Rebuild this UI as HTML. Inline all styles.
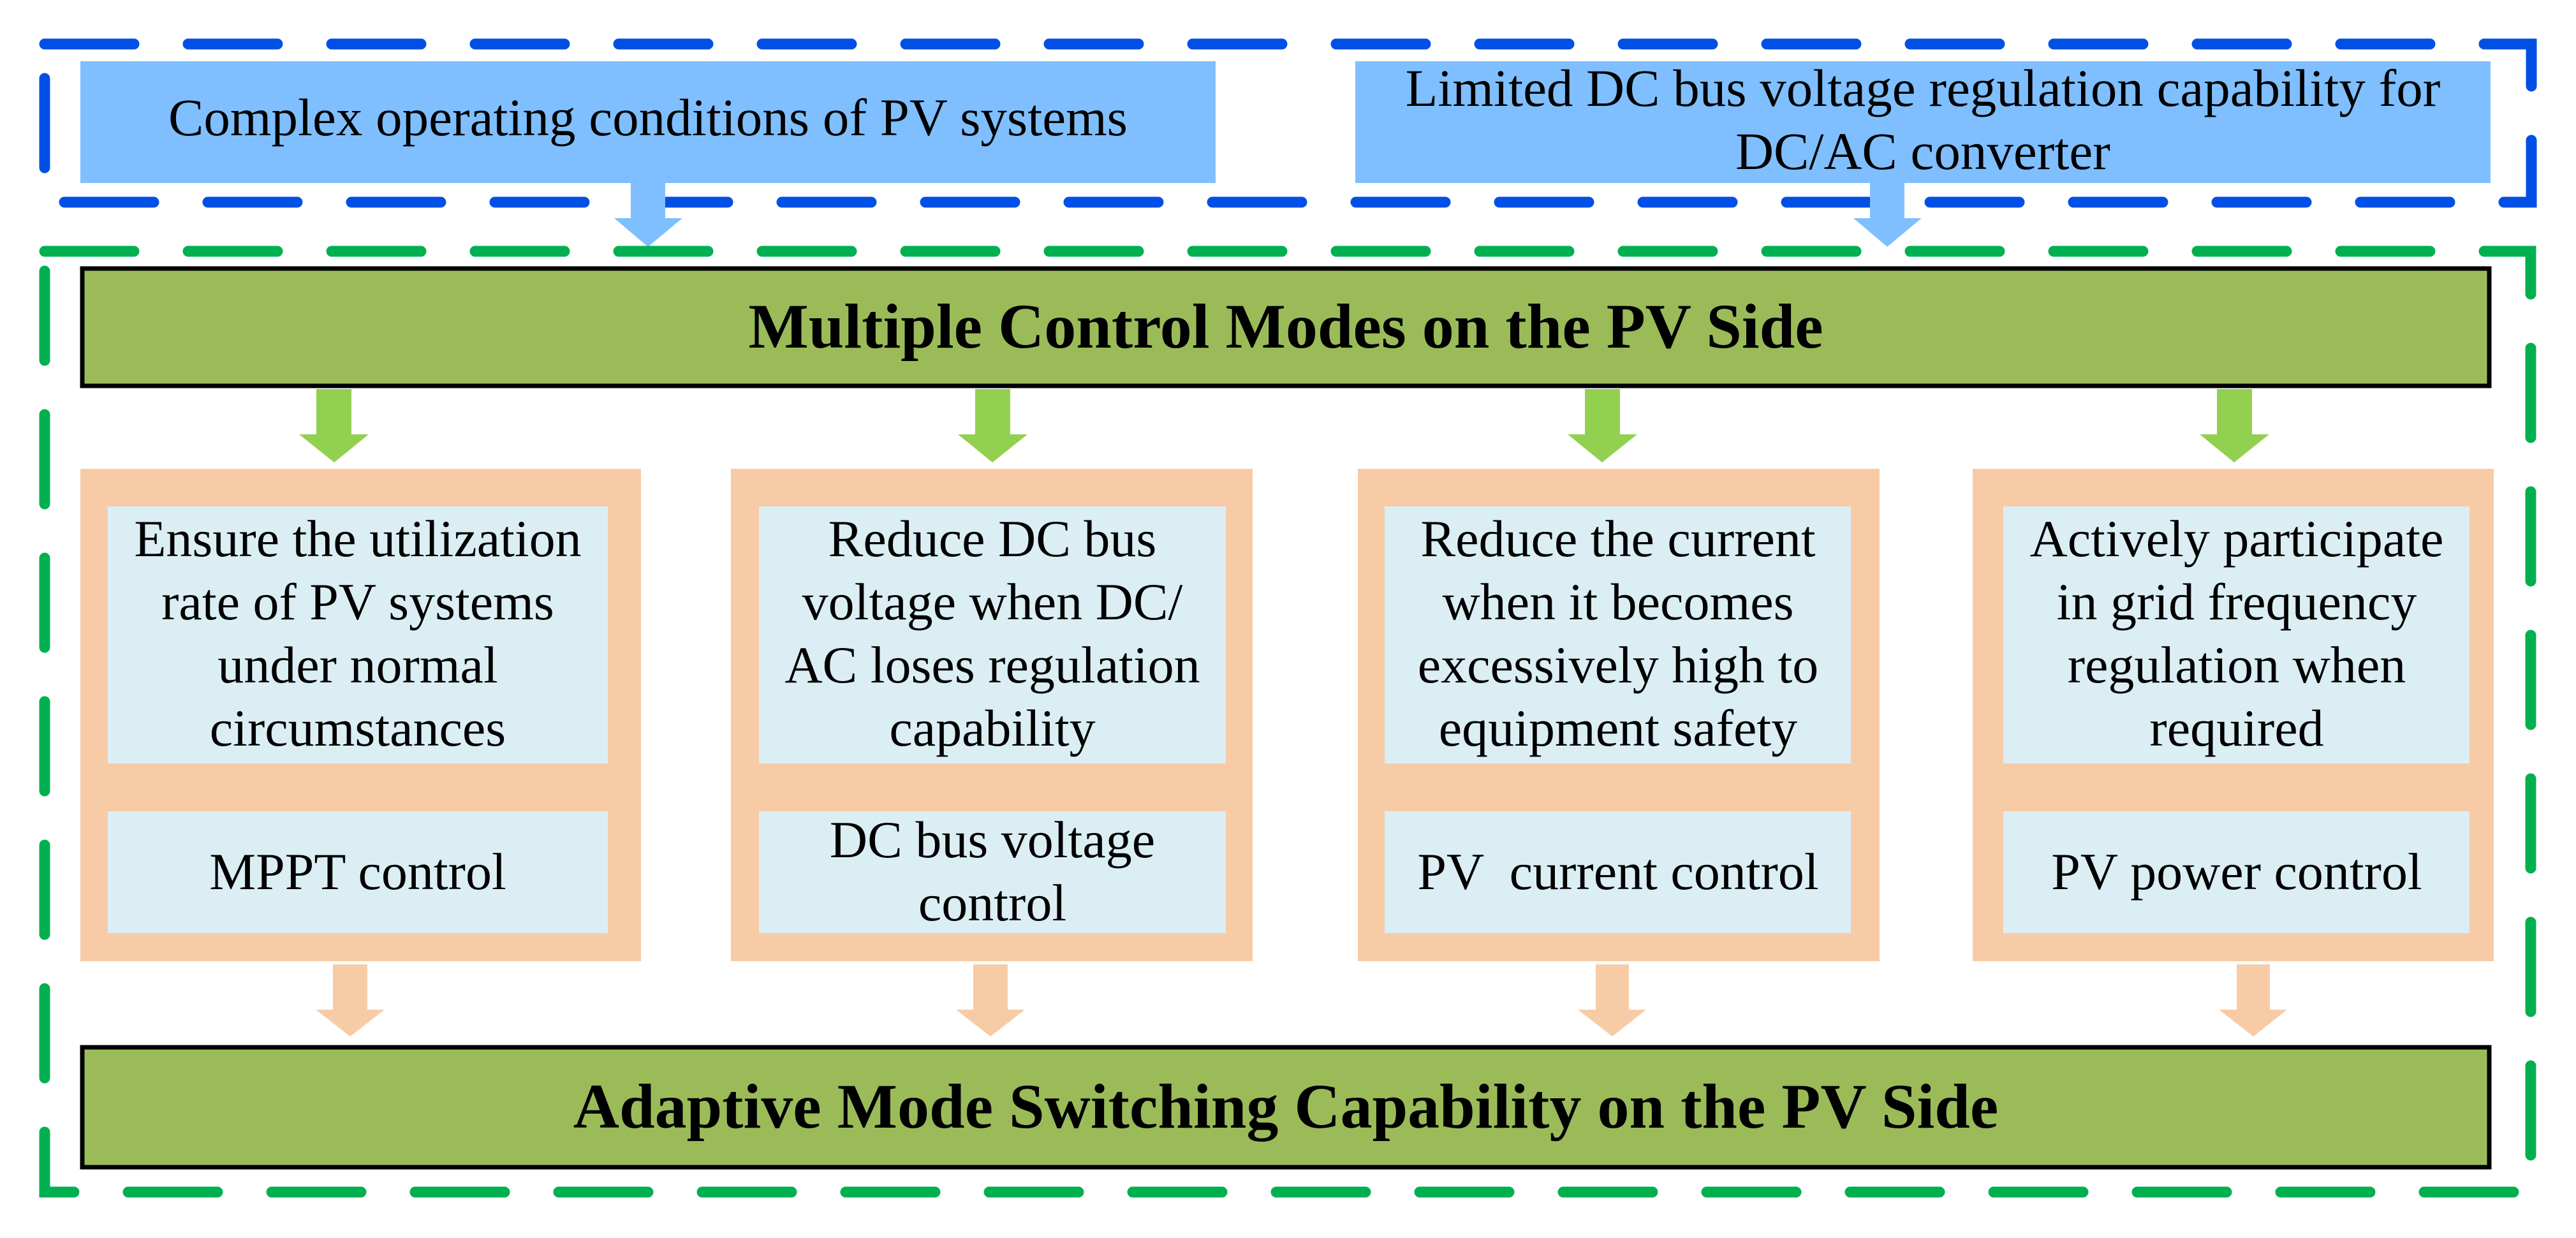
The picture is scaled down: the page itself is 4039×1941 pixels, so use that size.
<!DOCTYPE html>
<html><head><meta charset="utf-8"><style>
html,body{margin:0;padding:0;background:#fff;}
svg{display:block;}
text{font-family:"Liberation Serif","Times New Roman",serif;fill:#000;}
</style></head><body>
<svg width="4039" height="1941" viewBox="0 0 4039 1941" xmlns="http://www.w3.org/2000/svg">
<rect x="126" y="96" width="1780" height="191" fill="#7fbfff"/>
<rect x="2125" y="96" width="1780" height="191" fill="#7fbfff"/>
<text x="1016" y="212" font-size="83" text-anchor="middle">Complex operating conditions of PV systems</text>
<text x="3015" y="166" font-size="83" text-anchor="middle">Limited DC bus voltage regulation capability for</text>
<text x="3015" y="265" font-size="83" text-anchor="middle">DC/AC converter</text>
<rect x="70" y="69" width="3899" height="248" fill="none" stroke="#0050e6" stroke-width="17" stroke-dasharray="140 85" stroke-linecap="round"/>
<polygon points="989,287 1043,287 1043,342 1070,342 1016,387 963,342 989,342" fill="#7fbfff"/>
<polygon points="2932,287 2986,287 2986,342 3013,342 2959,387 2906,342 2932,342" fill="#7fbfff"/>
<rect x="70" y="394" width="3898" height="1475" fill="none" stroke="#00b050" stroke-width="17" stroke-dasharray="140 85" stroke-linecap="round"/>
<rect x="129" y="421" width="3774" height="184" fill="#9bbb59" stroke="#000" stroke-width="7"/>
<text x="2016" y="545" font-size="100" font-weight="bold" text-anchor="middle">Multiple Control Modes on the PV Side</text>
<rect x="129" y="1642" width="3774" height="188" fill="#9bbb59" stroke="#000" stroke-width="7"/>
<text x="2016" y="1768" font-size="100" font-weight="bold" text-anchor="middle">Adaptive Mode Switching Capability on the PV Side</text>
<g fill="#92d050">
<polygon points="496,610 551,610 551,681 578,681 524,725 469,681 496,681"/>
<polygon points="1529,610 1584,610 1584,681 1611,681 1556,725 1502,681 1529,681"/>
<polygon points="2485,610 2540,610 2540,681 2567,681 2512,725 2458,681 2485,681"/>
<polygon points="3476,610 3531,610 3531,681 3558,681 3503,725 3449,681 3476,681"/>
</g>
<g fill="#f8cba7">
<rect x="126" y="735" width="879" height="772"/>
<rect x="1146" y="735" width="818" height="772"/>
<rect x="2129" y="735" width="818" height="772"/>
<rect x="3093" y="735" width="817" height="772"/>
</g>
<g fill="#dbeef4">
<rect x="169" y="794" width="784" height="403"/>
<rect x="169" y="1272" width="784" height="191"/>
<rect x="1190" y="794" width="732" height="403"/>
<rect x="1190" y="1272" width="732" height="191"/>
<rect x="2171" y="794" width="731" height="403"/>
<rect x="2171" y="1272" width="731" height="191"/>
<rect x="3141" y="794" width="731" height="403"/>
<rect x="3141" y="1272" width="731" height="191"/>
</g>
<g font-size="82" text-anchor="middle">
<text x="561" y="872">Ensure the utilization</text>
<text x="561" y="971">rate of PV systems</text>
<text x="561" y="1070">under normal</text>
<text x="561" y="1169">circumstances</text>
<text x="561" y="1394">MPPT control</text>
<text x="1556" y="872">Reduce DC bus</text>
<text x="1556" y="971">voltage when DC/</text>
<text x="1556" y="1070">AC loses regulation</text>
<text x="1556" y="1169">capability</text>
<text x="1556" y="1344">DC bus voltage</text>
<text x="1556" y="1443">control</text>
<text x="2537" y="872">Reduce the current</text>
<text x="2537" y="971">when it becomes</text>
<text x="2537" y="1070">excessively high to</text>
<text x="2537" y="1169">equipment safety</text>
<text x="2537" y="1394" xml:space="preserve">PV  current control</text>
<text x="3507" y="872">Actively participate</text>
<text x="3507" y="971">in grid frequency</text>
<text x="3507" y="1070">regulation when</text>
<text x="3507" y="1169">required</text>
<text x="3507" y="1394">PV power control</text>
</g>
<g fill="#f8cba7">
<polygon points="522,1512 576,1512 576,1583 603,1583 549,1625 495,1583 522,1583"/>
<polygon points="1526,1512 1580,1512 1580,1583 1607,1583 1553,1625 1499,1583 1526,1583"/>
<polygon points="2502,1512 2554,1512 2554,1583 2581,1583 2528,1625 2474,1583 2502,1583"/>
<polygon points="3507,1512 3559,1512 3559,1583 3586,1583 3533,1625 3479,1583 3507,1583"/>
</g>
</svg>
</body></html>
